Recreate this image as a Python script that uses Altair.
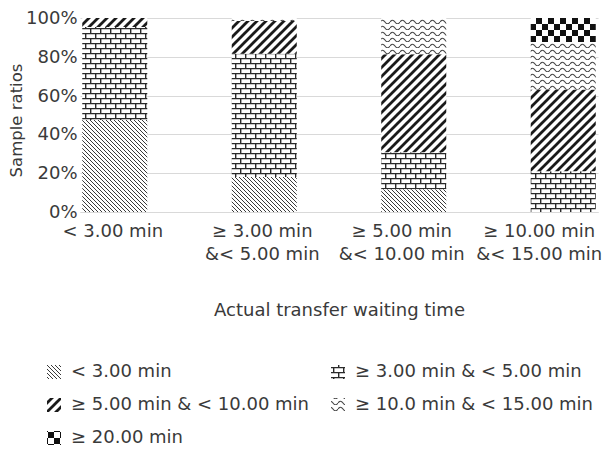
import altair as alt
import pandas as pd
import jinja2

# ---------------- data ----------------
categories = [
    "< 3.00 min",
    "≥ 3.00 min\n&< 5.00 min",
    "≥ 5.00 min\n&< 10.00 min",
    "≥ 10.00 min\n&< 15.00 min",
]
series_names = [
    "< 3.00 min",
    "≥ 3.00 min & < 5.00 min",
    "≥ 5.00 min & < 10.00 min",
    "≥ 10.0 min & < 15.00 min",
    "≥ 20.00 min",
]
lt_3 = [47.4, 18.0, 11.7, 0.0]
from_3_to_5 = [48.0, 63.6, 19.1, 21.0]
from_5_to_10 = [4.6, 16.9, 50.5, 42.1]
from_10_to_15 = [0.0, 1.5, 18.7, 24.5]
ge_20 = [0.0, 0.0, 0.0, 12.4]

series_values = [lt_3, from_3_to_5, from_5_to_10, from_10_to_15, ge_20]

rows = []
for si, (name, vals) in enumerate(zip(series_names, series_values)):
    for cat, v in zip(categories, vals):
        rows.append({"category": cat, "series": name, "value": v, "order": si})
df = pd.DataFrame(rows)

# ---------------- patterns (SVG defs injected into the page) ----------------
pattern_ids = ["pA", "pB", "pC", "pD", "pE"]
pattern_fills = [f"url(#{p})" for p in pattern_ids]

PATTERN_SVG = """
<svg width="0" height="0" style="position:absolute;left:0;top:0" aria-hidden="true">
<defs>
<pattern id="pA" patternUnits="userSpaceOnUse" width="4" height="4">
  <rect width="4" height="4" fill="#ffffff"/>
  <path d="M-1,-1 L5,5 M-1,3 L1,5 M3,-1 L5,1" stroke="#3a3a3a" stroke-width="1"/>
</pattern>
<pattern id="pB" patternUnits="userSpaceOnUse" width="10" height="10">
  <rect width="10" height="10" fill="#ffffff"/>
  <path d="M0,0.6 H10 M0,5.6 H10" stroke="#2a2a2a" stroke-width="1.2"/>
  <path d="M0.7,0 V5.6 M5.7,5.6 V10" stroke="#2a2a2a" stroke-width="1.4"/>
</pattern>
<pattern id="pC" patternUnits="userSpaceOnUse" width="9" height="9">
  <rect width="9" height="9" fill="#ffffff"/>
  <path d="M-1,10 L10,-1 M-3,3 L3,-3 M6,12 L12,6" stroke="#1a1a1a" stroke-width="2.8"/>
</pattern>
<pattern id="pD" patternUnits="userSpaceOnUse" width="10" height="6">
  <rect width="10" height="6" fill="#ffffff"/>
  <path d="M0,4 Q2.5,0.5 5,4 T10,4" fill="none" stroke="#4a4a4a" stroke-width="1.2"/>
</pattern>
<pattern id="pE" patternUnits="userSpaceOnUse" width="12" height="12">
  <rect width="12" height="12" fill="#ffffff"/>
  <rect width="6" height="6" fill="#111111"/>
  <rect x="6" y="6" width="6" height="6" fill="#111111"/>
</pattern>
</defs>
</svg>
"""

TEMPLATE = jinja2.Template("""<!DOCTYPE html>
<html>
<head>
<meta charset="utf-8">
<style>
  html { overflow: hidden; }
  body { margin: 8px; }
  #{{ output_div }} { display: block; }
  #{{ output_div }} svg { flex-shrink: 0; max-width: none; display: block; }
</style>
<script type="text/javascript" src="{{ base_url }}/vega@{{ vega_version }}"></script>
<script type="text/javascript" src="{{ base_url }}/vega-lite@{{ vegalite_version }}"></script>
<script type="text/javascript" src="{{ base_url }}/vega-embed@{{ vegaembed_version }}"></script>
</head>
<body>
""" + PATTERN_SVG + """
<div id="{{ output_div }}"></div>
<script>
  (function(vegaEmbed) {
    var spec = {{ spec }};
    var embedOpt = {{ embed_options }};
    if (!embedOpt.mode) { embedOpt.mode = "{{ mode }}"; }
    vegaEmbed("#{{ output_div }}", spec, embedOpt).catch(function(err) {
      document.getElementById("{{ output_div }}").innerText = String(err);
    });
  })(vegaEmbed);
</script>
</body>
</html>
""")

FONT = "DejaVu Sans"
TEXT = "#3a3a3a"

chart = alt.Chart(df).mark_bar().encode(
    x=alt.X(
        "category:N",
        sort=categories,
        scale=alt.Scale(paddingInner=0.565, paddingOuter=0.015),
        axis=alt.Axis(
            title="Actual transfer waiting time",
            labelAngle=0,
            ticks=False,
            domainColor="#d9d9d9",
            labelPadding=10,
            labelExpr="split(datum.label, '\\n')",
            labelLineHeight=23,
            labelOffset={
                "condition": [
                    {"test": "indexof(datum.value, '15.00') >= 0", "value": -24},
                    {"test": "indexof(datum.value, '< 10.00') >= 0", "value": -12},
                ],
                "value": -2,
            },
            titlePadding=38,
        ),
    ),
    y=alt.Y(
        "value:Q",
        stack="normalize",
        scale=alt.Scale(domain=[0, 1]),
        axis=alt.Axis(
            title="Sample ratios",
            titleFontSize=16.5,
            titleY=102,
            format=".0%",
            values=[0, 0.2, 0.4, 0.6, 0.8, 1.0],
            domain=False,
            ticks=False,
            labelPadding=3,
            labelOffset=0.5,
            titlePadding=1,
        ),
    ),
    fill=alt.Fill(
        "series:N",
        sort=series_names,
        scale=alt.Scale(domain=series_names, range=pattern_fills),
        legend=alt.Legend(
            title=None,
            orient="none",
            direction="horizontal",
            legendX=-35,
            legendY=345,
            columns=2,
            columnPadding=19,
            rowPadding=15,
            symbolType="square",
            symbolSize=196,
            symbolStrokeWidth=0,
            labelOffset=8,
            padding=0,
        ),
    ),
    order=alt.Order("order:Q", sort="ascending"),
).properties(
    width=518,
    height=194,
    autosize=alt.AutoSizeParams(type="none"),
    padding={"left": 72, "top": 10, "right": 4, "bottom": 236},
).configure_view(
    stroke=None
).configure_axis(
    labelFont=FONT,
    titleFont=FONT,
    labelFontSize=18,
    titleFontSize=18,
    labelColor=TEXT,
    titleColor=TEXT,
    titleFontWeight="normal",
    gridColor="#d9d9d9",
    gridWidth=1,
).configure_legend(
    labelFont=FONT,
    labelFontSize=18,
    labelColor=TEXT,
    labelLimit=400,
)

chart.save("out.html", embed_options={"renderer": "svg", "actions": False}, template=TEMPLATE)
